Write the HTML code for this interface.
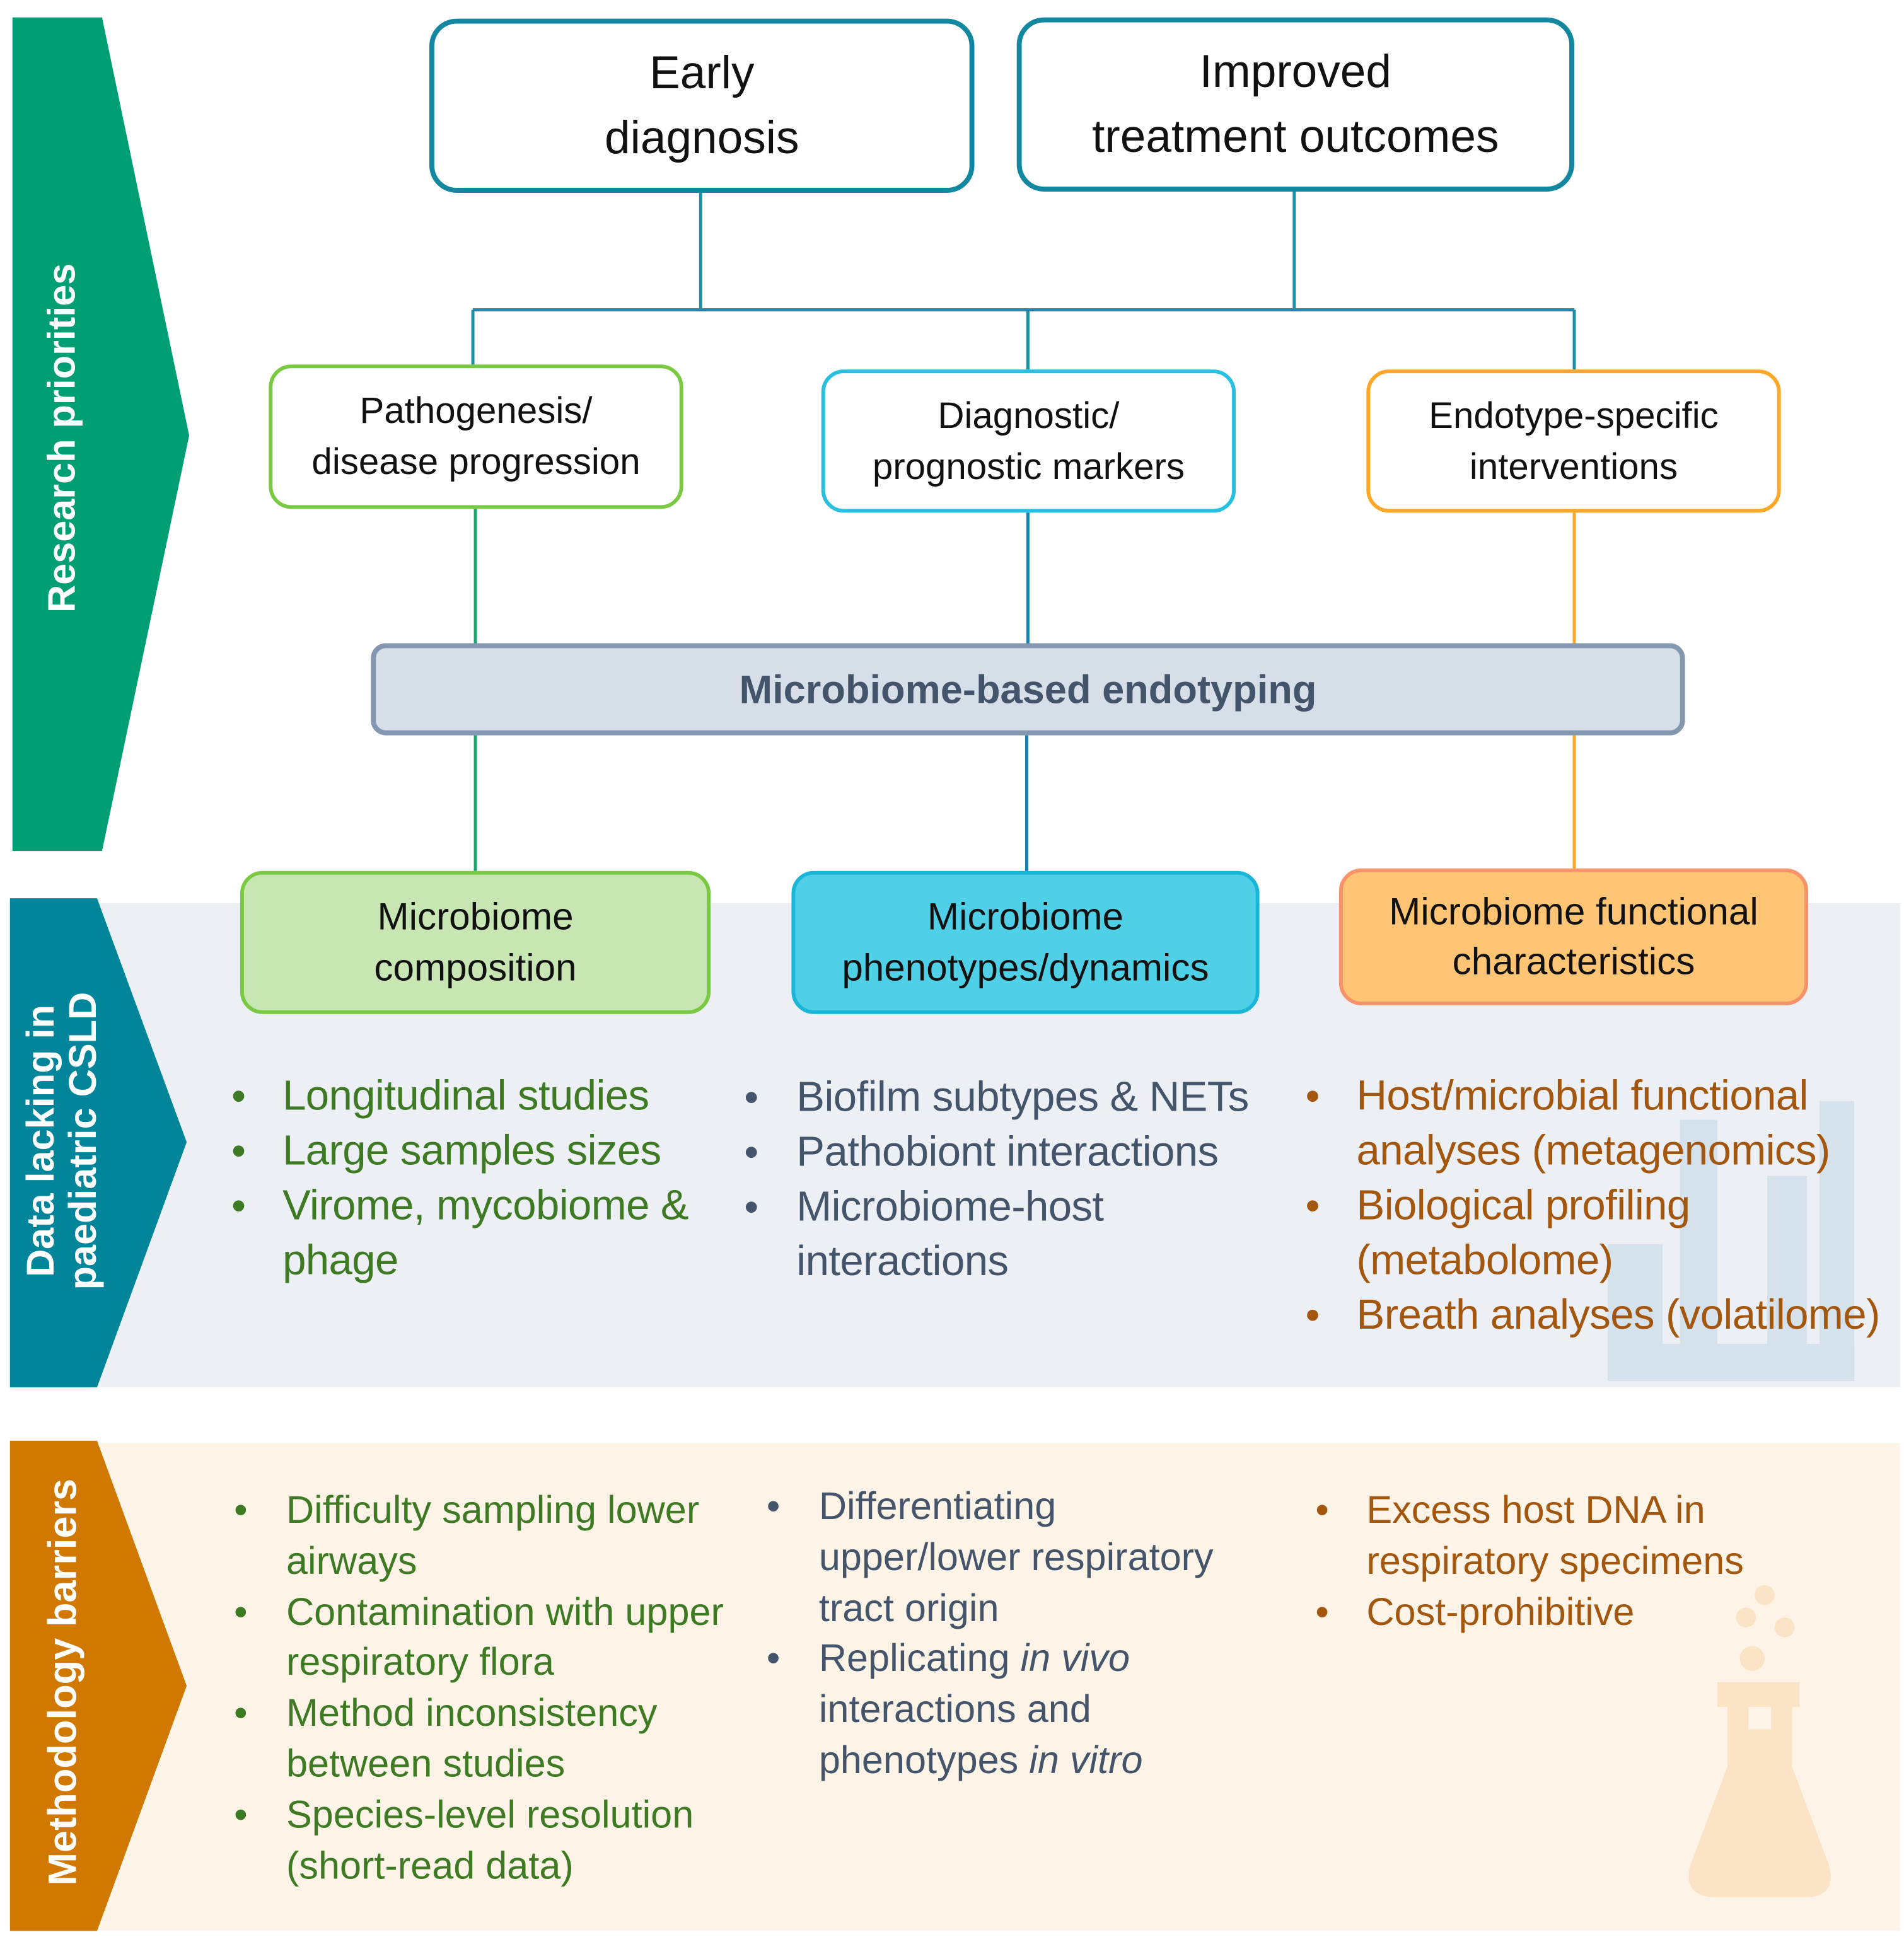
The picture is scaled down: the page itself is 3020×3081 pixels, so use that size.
<!DOCTYPE html>
<html><head><meta charset="utf-8"><style>
html,body{margin:0;padding:0;background:#fff;width:3020px;height:3081px;overflow:hidden}
#w{position:absolute;left:0;top:0;width:1530px;height:1561px;transform:scale(1.9739);transform-origin:0 0;font-family:"Liberation Sans",sans-serif}
.a{position:absolute}
.box{position:absolute;box-sizing:border-box;display:flex;align-items:center;justify-content:center;text-align:center;color:#111;background:#fff;white-space:nowrap}
.t{position:absolute;white-space:nowrap}
.v{position:absolute;color:#fff;font-weight:bold;white-space:nowrap;transform:rotate(-90deg);transform-origin:center;text-align:center}
</style></head><body><div id="w">
<div class="a" style="left:80px;top:726px;width:1447px;height:389px;background:#ecf0f4"></div>
<div class="a" style="left:80px;top:1160px;width:1447px;height:392px;background:#fdf4e7"></div>
<svg class="a" style="left:0;top:0" width="1530" height="1561">
<polygon points="10,14 82,14 152,350 82,684 10,684" fill="#009e73"/>
<polygon points="8,722 78,722 150,918 78,1115 8,1115" fill="#00859b"/>
<polygon points="8,1158 78,1158 150,1355 78,1552 8,1552" fill="#d07800"/>
<g fill="#d5e1eb"><rect x="1292" y="1000" width="44" height="110"/><rect x="1350" y="900" width="30" height="210"/><rect x="1420" y="945" width="32" height="165"/><rect x="1462" y="885" width="28" height="225"/><rect x="1292" y="1080" width="198" height="30"/></g>
<g fill="#fbe3c6"><circle cx="1418" cy="1282" r="8"/><circle cx="1403" cy="1300" r="8"/><circle cx="1434" cy="1308" r="8"/><circle cx="1408" cy="1333" r="10"/>
<path d="M1380,1352 H1446 V1372 H1440 V1420 L1470,1500 Q1476,1525 1450,1525 H1380 Q1352,1525 1358,1500 L1388,1420 V1372 H1380 Z"/></g>
<rect x="1405" y="1372" width="18" height="18" fill="#fdf4e7"/>
<g stroke="#1b8ea8" stroke-width="2.5" fill="none">
<path d="M563,155 V249 M1040,154 V249 M380,249 H1265 M380,249 V293 M826,249 V297 M1265,249 V297"/>
<path d="M826,412 V517 M825,591 V700" stroke="#1a7fb0"/></g>
<path d="M382,409 V517 M382,591 V700" stroke="#1aa36e" stroke-width="2.5"/>
<path d="M1265,412 V517 M1265,591 V698" stroke="#ffa726" stroke-width="2.5"/>
</svg>
<div class="v" style="left:-110px;top:335px;width:320px;font-size:31px;line-height:34px">Research priorities</div>
<div class="v" style="left:-110px;top:883px;width:320px;font-size:31px;line-height:34px">Data lacking in<br>paediatric CSLD</div>
<div class="v" style="left:-130px;top:1335px;width:360px;font-size:32px;line-height:34px">Methodology barriers</div>

<div class="box" style="left:345px;top:15px;width:438px;height:140px;border:4px solid #1287a0;border-radius:22px;font-size:37px;line-height:52px">Early<br>diagnosis</div>
<div class="box" style="left:817px;top:14px;width:448px;height:140px;border:4px solid #1287a0;border-radius:22px;font-size:37px;line-height:52px">Improved<br>treatment outcomes</div>
<div class="box" style="left:216px;top:293px;width:333px;height:116px;border:3px solid #7ac943;border-radius:18px;font-size:29.5px;line-height:41px">Pathogenesis/<br>disease progression</div>
<div class="box" style="left:660px;top:297px;width:333px;height:115px;border:3px solid #27c0e0;border-radius:18px;font-size:29.5px;line-height:41px">Diagnostic/<br>prognostic markers</div>
<div class="box" style="left:1098px;top:297px;width:333px;height:115px;border:3px solid #ffa726;border-radius:18px;font-size:29.5px;line-height:41px">Endotype-specific<br>interventions</div>
<div class="box" style="left:298px;top:517px;width:1056px;height:74px;border:4px solid #8497b0;border-radius:12px;background:#d6dfe8;color:#44546a;font-weight:bold;font-size:32px">Microbiome-based endotyping</div>
<div class="box" style="left:193px;top:700px;width:378px;height:115px;border:3px solid #7ac943;border-radius:18px;background:#c8e6b4;font-size:30.5px;line-height:41px">Microbiome<br>composition</div>
<div class="box" style="left:636px;top:700px;width:376px;height:115px;border:3px solid #1ab5d8;border-radius:18px;background:#4fd0e6;font-size:30.5px;line-height:41px">Microbiome<br>phenotypes/dynamics</div>
<div class="box" style="left:1076px;top:698px;width:377px;height:110px;border:3px solid #f7936a;border-radius:18px;background:#ffc574;font-size:30.5px;line-height:40px">Microbiome functional<br>characteristics</div>

<div class="t" style="left:186px;top:859px;color:#3e7a24;line-height:44px;font-size:33px">•<br>•<br>•</div>
<div class="t" style="left:227px;top:859px;color:#3e7a24;line-height:44px;font-size:34px;letter-spacing:-0.3px">Longitudinal studies<br>Large samples sizes<br>Virome, mycobiome &amp;<br>phage</div>
<div class="t" style="left:598px;top:860px;color:#44546a;line-height:44px;font-size:33px">•<br>•<br>•</div>
<div class="t" style="left:640px;top:860px;color:#44546a;line-height:44px;font-size:34px;letter-spacing:-0.3px">Biofilm subtypes &amp; NETs<br>Pathobiont interactions<br>Microbiome-host<br>interactions</div>
<div class="t" style="left:1049px;top:859px;color:#a3560d;line-height:44px;font-size:33px">•<br><br>•<br><br>•</div>
<div class="t" style="left:1090px;top:859px;color:#a3560d;line-height:44px;font-size:34px;letter-spacing:-0.3px">Host/microbial functional<br>analyses (metagenomics)<br>Biological profiling<br>(metabolome)<br>Breath analyses (volatilome)</div>

<div class="t" style="left:188px;top:1194px;color:#3e7a24;line-height:40.8px;font-size:31px">•<br><br>•<br><br>•<br><br>•</div>
<div class="t" style="left:230px;top:1194px;color:#3e7a24;line-height:40.8px;font-size:31px">Difficulty sampling lower<br>airways<br>Contamination with upper<br>respiratory flora<br>Method inconsistency<br>between studies<br>Species-level resolution<br>(short-read data)</div>
<div class="t" style="left:616px;top:1191px;color:#44546a;line-height:40.8px;font-size:31px">•<br><br><br>•</div>
<div class="t" style="left:658px;top:1191px;color:#44546a;line-height:40.8px;font-size:31px">Differentiating<br>upper/lower respiratory<br>tract origin<br>Replicating <i>in vivo</i><br>interactions and<br>phenotypes <i>in vitro</i></div>
<div class="t" style="left:1057px;top:1194px;color:#a3560d;line-height:40.8px;font-size:31px">•<br><br>•</div>
<div class="t" style="left:1098px;top:1194px;color:#a3560d;line-height:40.8px;font-size:31px">Excess host DNA in<br>respiratory specimens<br>Cost-prohibitive</div>
</div></body></html>
